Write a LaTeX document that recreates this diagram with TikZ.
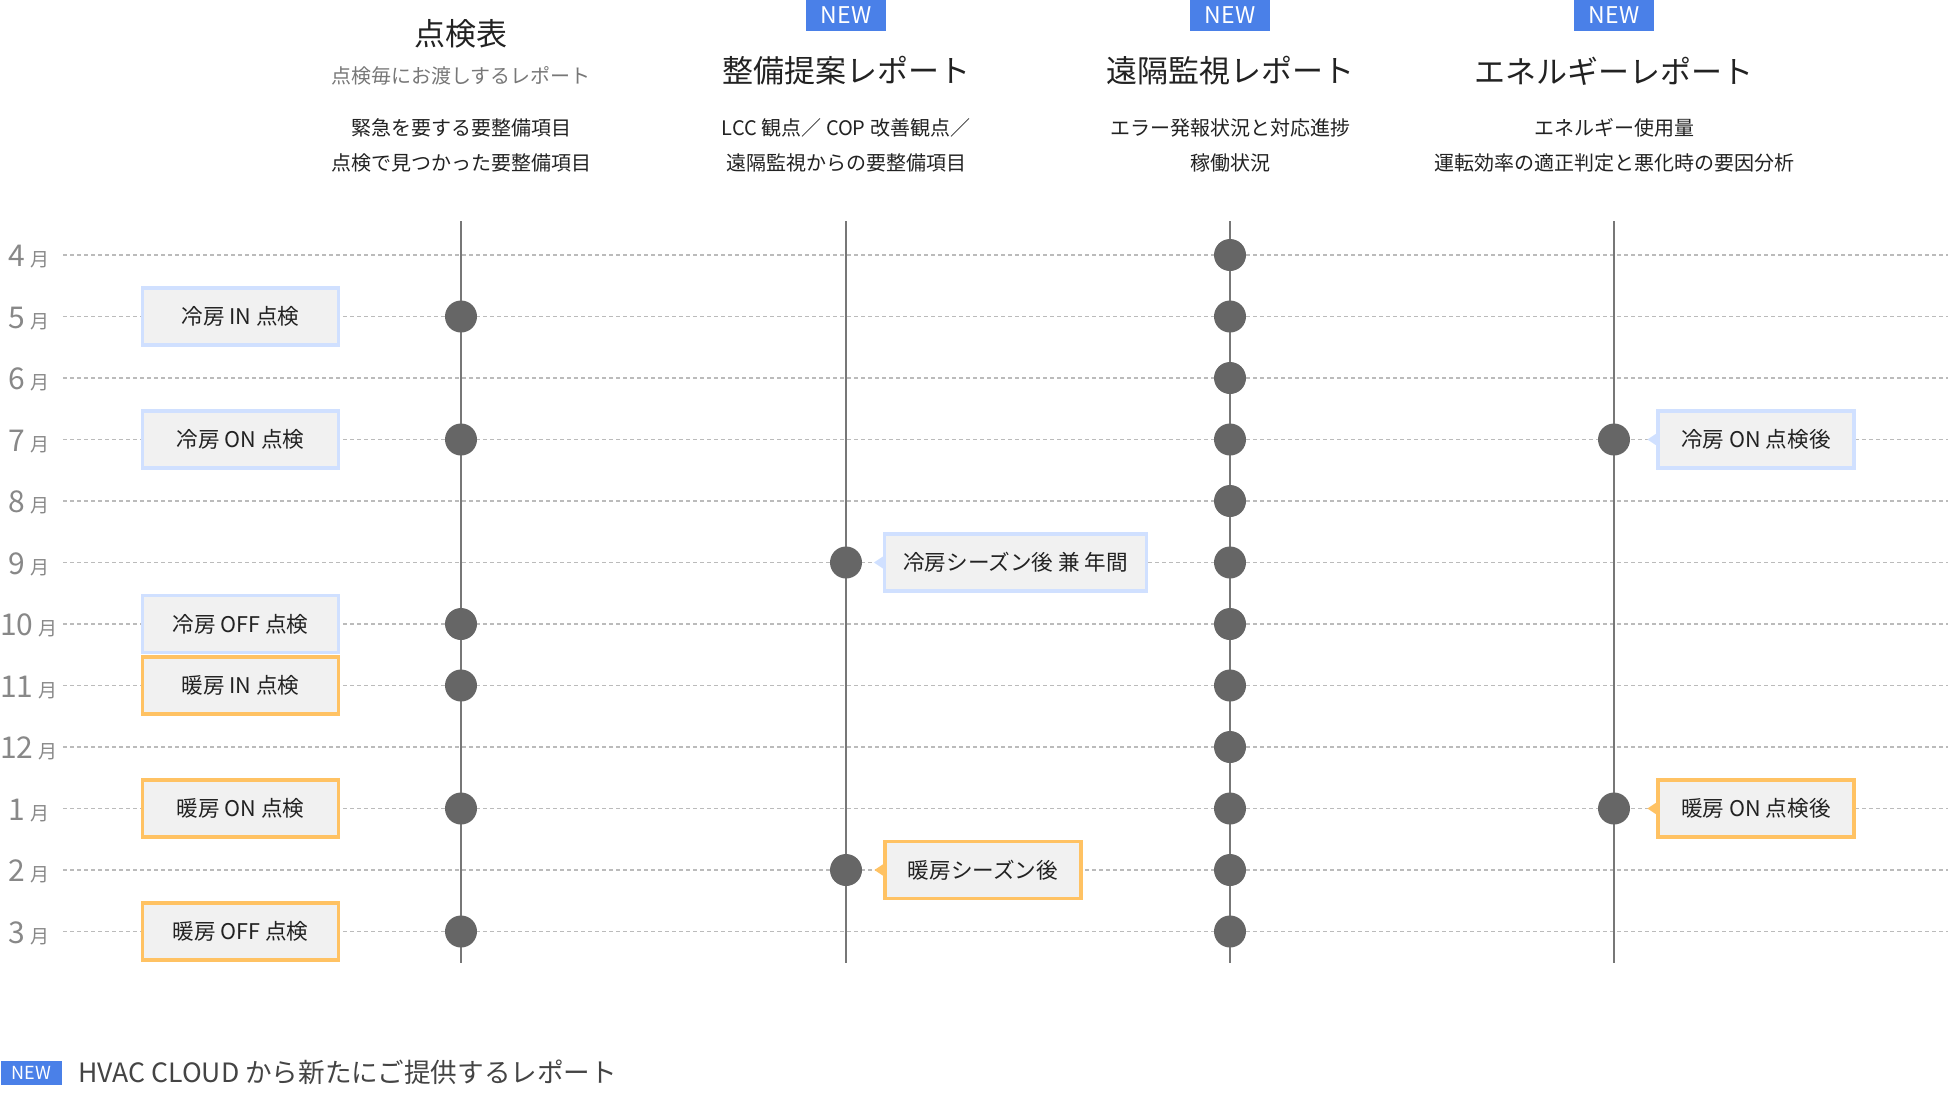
\documentclass[tikz,border=0pt]{standalone}
\usepackage{fontspec}
\setmainfont{Noto Sans CJK JP}
\definecolor{newblue}{HTML}{4A80E8}
\definecolor{coolblue}{HTML}{D0E0FF}
\definecolor{warmorange}{HTML}{FFC263}
\definecolor{boxgray}{HTML}{F1F1F1}
\definecolor{dotgray}{HTML}{666666}
\definecolor{axisgray}{HTML}{777777}
\definecolor{gridgray}{HTML}{BBBBBB}
\definecolor{monthgray}{HTML}{888888}
\definecolor{subgray}{HTML}{777777}
\definecolor{textdark}{HTML}{222222}
\definecolor{legendgray}{HTML}{444444}
\tikzset{
    newtag/.style={fill=newblue, text=white, inner sep=0pt, minimum width=40pt, minimum height=15.5pt, font=\fontsize{11.5pt}{13pt}\selectfont},
    reporttitle/.style={text=textdark, font=\fontsize{15.5pt}{18pt}\selectfont},
    reportdesc/.style={text=textdark, align=center, font=\fontsize{10pt}{17.5pt}\selectfont},
    monthlabel/.style={anchor=base, inner sep=0pt, text=monthgray, font=\fontsize{15pt}{17pt}\selectfont},
    gridline/.style={gridgray, line width=0.75pt, dash pattern=on 2pt off 1.5pt},
    axis/.style={axisgray, line width=1.2pt},
    dot/.style={circle, fill=dotgray, inner sep=0pt, minimum size=16pt},
    checkbox/.style={fill=boxgray, line width=1.6pt, minimum height=28.5pt, minimum width=98pt, inner sep=0pt, text=textdark, font=\fontsize{10.8pt}{12pt}\selectfont},
    coolbox/.style={checkbox, draw=coolblue},
    warmbox/.style={checkbox, draw=warmorange}
}
\begin{document}
\begin{tikzpicture}[x=0.5pt, y=-0.5pt]
    \useasboundingbox (0,0) rectangle (1948,1110);

    % Month rows
    \foreach \m [count=\i from 0] in {4,5,6,7,8,9,10,11,12,1,2,3} {
        \pgfmathsetmacro{\y}{255+61.5*\i}
        \node[monthlabel] (m\m) at (29,\y+11.5) {\m\,{\fontsize{9.5pt}{10pt}\selectfont 月}};
        \coordinate (gl\m) at (63,\y);
        \coordinate (gr\m) at (1948,\y);
        \draw[gridline] (gl\m) -- (gr\m);
    }

    % Time axes of the four reports
    \foreach \c/\x in {1/461, 2/846, 3/1230, 4/1614} {
        \coordinate (top\c) at (\x,221);
        \coordinate (bot\c) at (\x,963);
        \draw[axis] (top\c) -- (bot\c);
    }

    % Report dots
    \foreach \i in {1,3,6,7,9,11}
        \node[dot] (k1-\i) at (461,{255+61.5*\i}) {};
    \foreach \i in {5,10}
        \node[dot] (k2-\i) at (846,{255+61.5*\i}) {};
    \foreach \i in {0,...,11}
        \node[dot] (k3-\i) at (1230,{255+61.5*\i}) {};
    \foreach \i in {3,9}
        \node[dot] (k4-\i) at (1614,{255+61.5*\i}) {};

    % Headers
    \node[reporttitle] (h1) at (461,34) {点検表};
    \node[text=subgray, font=\fontsize{10pt}{12pt}\selectfont] (h1sub) at (461,76) {点検毎にお渡しするレポート};
    \node[reportdesc] (h1desc) at (461,145.5) {緊急を要する要整備項目\\点検で見つかった要整備項目};

    \node[newtag] (new2) at (846,15.5) {NEW};
    \node[reporttitle] (h2) at (846,71) {整備提案レポート};
    \node[reportdesc] (h2desc) at (846,145.5) {LCC 観点／ COP 改善観点／\\遠隔監視からの要整備項目};

    \node[newtag] (new3) at (1230,15.5) {NEW};
    \node[reporttitle] (h3) at (1230,71) {遠隔監視レポート};
    \node[reportdesc] (h3desc) at (1230,145.5) {エラー発報状況と対応進捗\\稼働状況};

    \node[newtag] (new4) at (1614,15.5) {NEW};
    \node[reporttitle] (h4) at (1614,71) {エネルギーレポート};
    \node[reportdesc] (h4desc) at (1614,145.5) {エネルギー使用量\\運転効率の適正判定と悪化時の要因分析};

    % Inspection boxes
    \node[coolbox] (c5) at (240.5,316.5) {冷房 IN 点検};
    \node[coolbox] (c7) at (240.5,439.5) {冷房 ON 点検};
    \node[coolbox] (c10) at (240.5,624) {冷房 OFF 点検};
    \node[warmbox] (c11) at (240.5,685.5) {暖房 IN 点検};
    \node[warmbox] (c1) at (240.5,808.5) {暖房 ON 点検};
    \node[warmbox] (c3) at (240.5,931.5) {暖房 OFF 点検};

    % Callouts
    \node[coolbox, minimum width=131pt] (s9) at (1015.5,562.5) {冷房シーズン後 兼 年間};
    \node[warmbox] (s2) at (983,870) {暖房シーズン後};
    \node[coolbox] (e7) at (1756,439.5) {冷房 ON 点検後};
    \node[warmbox] (e1) at (1756,808.5) {暖房 ON 点検後};
    \foreach \n/\col in {s9/coolblue, s2/warmorange, e7/coolblue, e1/warmorange}
        \fill[\col] ([yshift=3pt]\n.west) -- ++(-4.5pt,-3pt) -- ++(4.5pt,-3pt) -- cycle;

    % Legend
    \node[newtag, minimum width=30.5pt, minimum height=12pt, font=\fontsize{9pt}{10pt}\selectfont] (legnew) at (31.5,1073) {NEW};
    \node[anchor=base west, inner sep=0pt, text=legendgray, font=\fontsize{13.3pt}{15pt}\selectfont] (legtext) at (78,1082) {HVAC CLOUD から新たにご提供するレポート};
\end{tikzpicture}
\end{document}
